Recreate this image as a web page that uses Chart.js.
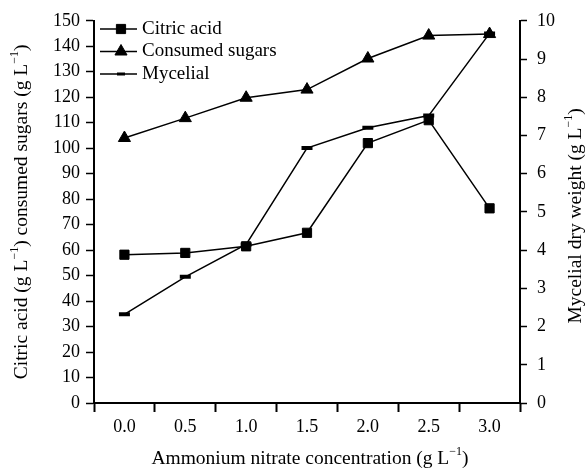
<!DOCTYPE html>
<html>
<head>
<meta charset="utf-8">
<script src="https://cdn.jsdelivr.net/npm/chart.js@4.4.1/dist/chart.umd.min.js"></script>
<style>
  html, body { margin: 0; padding: 0; background: #fff; }
  #wrap { width: 586px; height: 470px; }
</style>
</head>
<body>
<div id="wrap"><canvas id="grafico"></canvas></div>
<script>
const concentraciones = ['0.0', '0.5', '1.0', '1.5', '2.0', '2.5', '3.0'];
const acidoCitrico = [58.2, 58.9, 61.5, 66.8, 102, 111, 76.4];
const azucaresConsumidos = [104, 111.8, 119.8, 123, 135.2, 144.2, 144.8];
const pesoMicelial = [2.32, 3.3, 4.15, 6.67, 7.2, 7.52, 9.67];

const FUENTE = 'Liberation Serif';

// texto con superindices, centrado en (x, y), opcionalmente rotado
function textoRico(ctx, partes, x, y, rot, size) {
    ctx.save();
    ctx.translate(x, y);
    ctx.rotate(rot);
    ctx.fillStyle = '#000';
    ctx.textBaseline = 'middle';
    ctx.textAlign = 'left';
    const fNormal = size + 'px "' + FUENTE + '"';
    const fSup = Math.round(size * 0.6) + 'px "' + FUENTE + '"';
    let total = 0;
    partes.forEach(p => {
        ctx.font = p.sup ? fSup : fNormal;
        total += ctx.measureText(p.t).width;
    });
    let cx = -total / 2;
    partes.forEach(p => {
        ctx.font = p.sup ? fSup : fNormal;
        ctx.fillText(p.t, cx, p.sup ? -size * 0.38 : 0);
        cx += ctx.measureText(p.t).width;
    });
    ctx.restore();
}

const titulos = {
    id: 'titulos',
    afterDraw(chart) {
        const ctx = chart.ctx;
        const a = chart.chartArea;
        const mid = (a.top + a.bottom) / 2;
        textoRico(ctx, [
            { t: 'Citric acid (g L' }, { t: '\u22121', sup: true },
            { t: ') consumed sugars (g L' }, { t: '\u22121', sup: true }, { t: ')' }
        ], 22, mid, -Math.PI / 2, 19.5);
        textoRico(ctx, [
            { t: 'Mycelial dry weight (g L' }, { t: '\u22121', sup: true }, { t: ')' }
        ], 576, mid + 4, -Math.PI / 2, 19.5);
        textoRico(ctx, [
            { t: 'Ammonium nitrate concentration (g L' }, { t: '\u22121', sup: true }, { t: ')' }
        ], (a.left + a.right) / 2 + 3, 459, 0, 19.5);
    }
};

// leyenda dentro del area del grafico, arriba a la izquierda
const leyenda = {
    id: 'leyenda',
    afterDraw(chart) {
        const ctx = chart.ctx;
        const x0 = chart.chartArea.left + 6;
        const marcas = [
            { radio: 6.5, grosor: 1 },
            { radio: 7, grosor: 1 },
            { radio: 4, grosor: 3 }
        ];
        chart.data.datasets.forEach((ds, i) => {
            const y = 29 + i * 22.5;
            ctx.save();
            ctx.strokeStyle = '#000';
            ctx.fillStyle = '#000';
            ctx.lineWidth = 1.5;
            ctx.beginPath();
            ctx.moveTo(x0, y);
            ctx.lineTo(x0 + 37, y);
            ctx.stroke();
            ctx.lineWidth = marcas[i].grosor;
            Chart.helpers.drawPoint(ctx, {
                pointStyle: ds.pointStyle,
                radius: marcas[i].radio,
                borderWidth: marcas[i].grosor
            }, x0 + 21, y);
            ctx.fillStyle = '#000';
            ctx.font = '19px "' + FUENTE + '"';
            ctx.textBaseline = 'middle';
            ctx.fillText(ds.label, x0 + 42, y);
            ctx.restore();
        });
    }
};

const serie = (label, data, estilo, radio, borde, eje) => ({
    label: label,
    data: data,
    yAxisID: eje,
    borderColor: '#000',
    backgroundColor: '#000',
    borderWidth: 1.5,
    pointStyle: estilo,
    pointRadius: radio,
    pointBorderWidth: borde,
    pointBackgroundColor: '#000',
    pointBorderColor: '#000',
    tension: 0
});

const ticksFuente = { family: FUENTE, size: 18 };

new Chart(document.getElementById('grafico'), {
    type: 'line',
    data: {
        labels: concentraciones,
        datasets: [
            serie('Citric acid', acidoCitrico, 'rect', 6.5, 1, 'y'),
            serie('Consumed sugars', azucaresConsumidos, 'triangle', 7, 1, 'y'),
            serie('Mycelial', pesoMicelial, 'line', 5.5, 4, 'y1')
        ]
    },
    options: {
        responsive: true,
        maintainAspectRatio: false,
        animation: false,
        layout: { padding: { top: 19, left: 0, right: 0, bottom: 0 } },
        plugins: {
            legend: { display: false },
            tooltip: { enabled: false }
        },
        scales: {
            x: {
                offset: true,
                grid: { offset: true, drawOnChartArea: false, tickLength: 9, tickColor: '#000', tickWidth: 2 },
                border: { color: '#000', width: 2 },
                ticks: { color: '#000', font: ticksFuente, padding: 4, maxRotation: 0 },
                afterFit: s => { s.height = 67; }
            },
            y: {
                position: 'left',
                min: 0, max: 150,
                grid: { drawOnChartArea: false, tickLength: 8, tickColor: '#000', tickWidth: 1.5 },
                border: { color: '#000', width: 2 },
                ticks: { stepSize: 10, color: '#000', font: ticksFuente, padding: 6 },
                afterFit: s => { s.width = 94; }
            },
            y1: {
                position: 'right',
                min: 0, max: 10,
                grid: { drawOnChartArea: false, tickLength: 7, tickColor: '#000', tickWidth: 1.5 },
                border: { color: '#000', width: 2 },
                ticks: { stepSize: 1, color: '#000', font: ticksFuente, padding: 10 },
                afterFit: s => { s.width = 66; }
            }
        }
    },
    plugins: [titulos, leyenda]
});
</script>
</body>
</html>
